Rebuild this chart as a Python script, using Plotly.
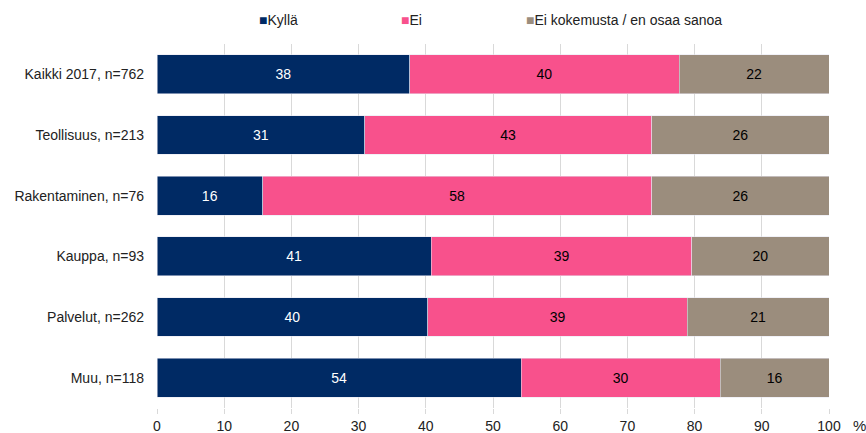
import plotly.graph_objects as go

categories = ["Kaikki 2017, n=762", "Teollisuus, n=213", "Rakentaminen, n=76",
              "Kauppa, n=93", "Palvelut, n=262", "Muu, n=118"]
kylla = [37.6, 30.9, 15.7, 40.8, 40.3, 54.2]
ei = [40.1, 42.7, 57.9, 38.8, 38.6, 29.6]
ei_kok = [22.3, 26.4, 26.4, 20.4, 21.1, 16.2]
series_names = ["Kyllä", "Ei", "Ei kokemusta / en osaa sanoa"]
colors = ["#002A64", "#F8518C", "#9B8D7D"]
text_colors = ["white", "black", "black"]
x_ticks = [0, 10, 20, 30, 40, 50, 60, 70, 80, 90, 100]

FONT = "Liberation Sans, Arial, sans-serif"
FS = 14

fig = go.Figure()
for name, vals, col, tcol in zip(series_names, [kylla, ei, ei_kok], colors, text_colors):
    fig.add_trace(go.Bar(
        y=categories, x=vals, name=name, orientation="h",
        marker=dict(color=col, line=dict(color="rgba(230,230,240,0.9)", width=0.6)),
        texttemplate="%{x:.0f}", textposition="inside", insidetextanchor="middle",
        textfont=dict(color=tcol, size=FS, family=FONT),
        showlegend=False,
    ))

fig.update_layout(
    width=866, height=433,
    barmode="stack", bargap=0.36,
    margin=dict(l=157, r=37, t=44, b=25),
    plot_bgcolor="white", paper_bgcolor="white",
    font=dict(family=FONT, size=FS, color="#222222"),
)
fig.update_xaxes(
    range=[0, 100], tickvals=x_ticks, showgrid=True, gridcolor="#D9D9D9", gridwidth=1,
    zeroline=False, ticks="outside", ticklen=5, tickcolor="#D9D9D9",
    showline=False, tickfont=dict(size=FS, color="#222222"), automargin=False,
)
fig.update_yaxes(
    autorange="reversed", showgrid=False, ticks="", ticklabelstandoff=12,
    tickfont=dict(size=FS, color="#222222"), showline=False, automargin=False,
)

fig.add_annotation(text="%", xref="paper", yref="paper", x=1.046, y=0, yshift=-17,
                   showarrow=False, font=dict(size=15, color="#222222"),
                   xanchor="center", yanchor="middle")

legend_x = [257, 399, 524]
for name, col, px in zip(series_names, colors, legend_x):
    fig.add_annotation(
        text=f'<span style="color:{col};font-size:14px">■</span>{name}',
        xref="paper", yref="paper", x=(px - 157) / (866 - 157 - 37), y=1, yshift=24,
        xanchor="left", yanchor="middle", showarrow=False,
        font=dict(size=FS, color="#222222"),
    )

fig.write_html("out.html", config={"displayModeBar": False},
               post_script="document.body.style.margin='0';document.body.style.overflow='hidden';")
